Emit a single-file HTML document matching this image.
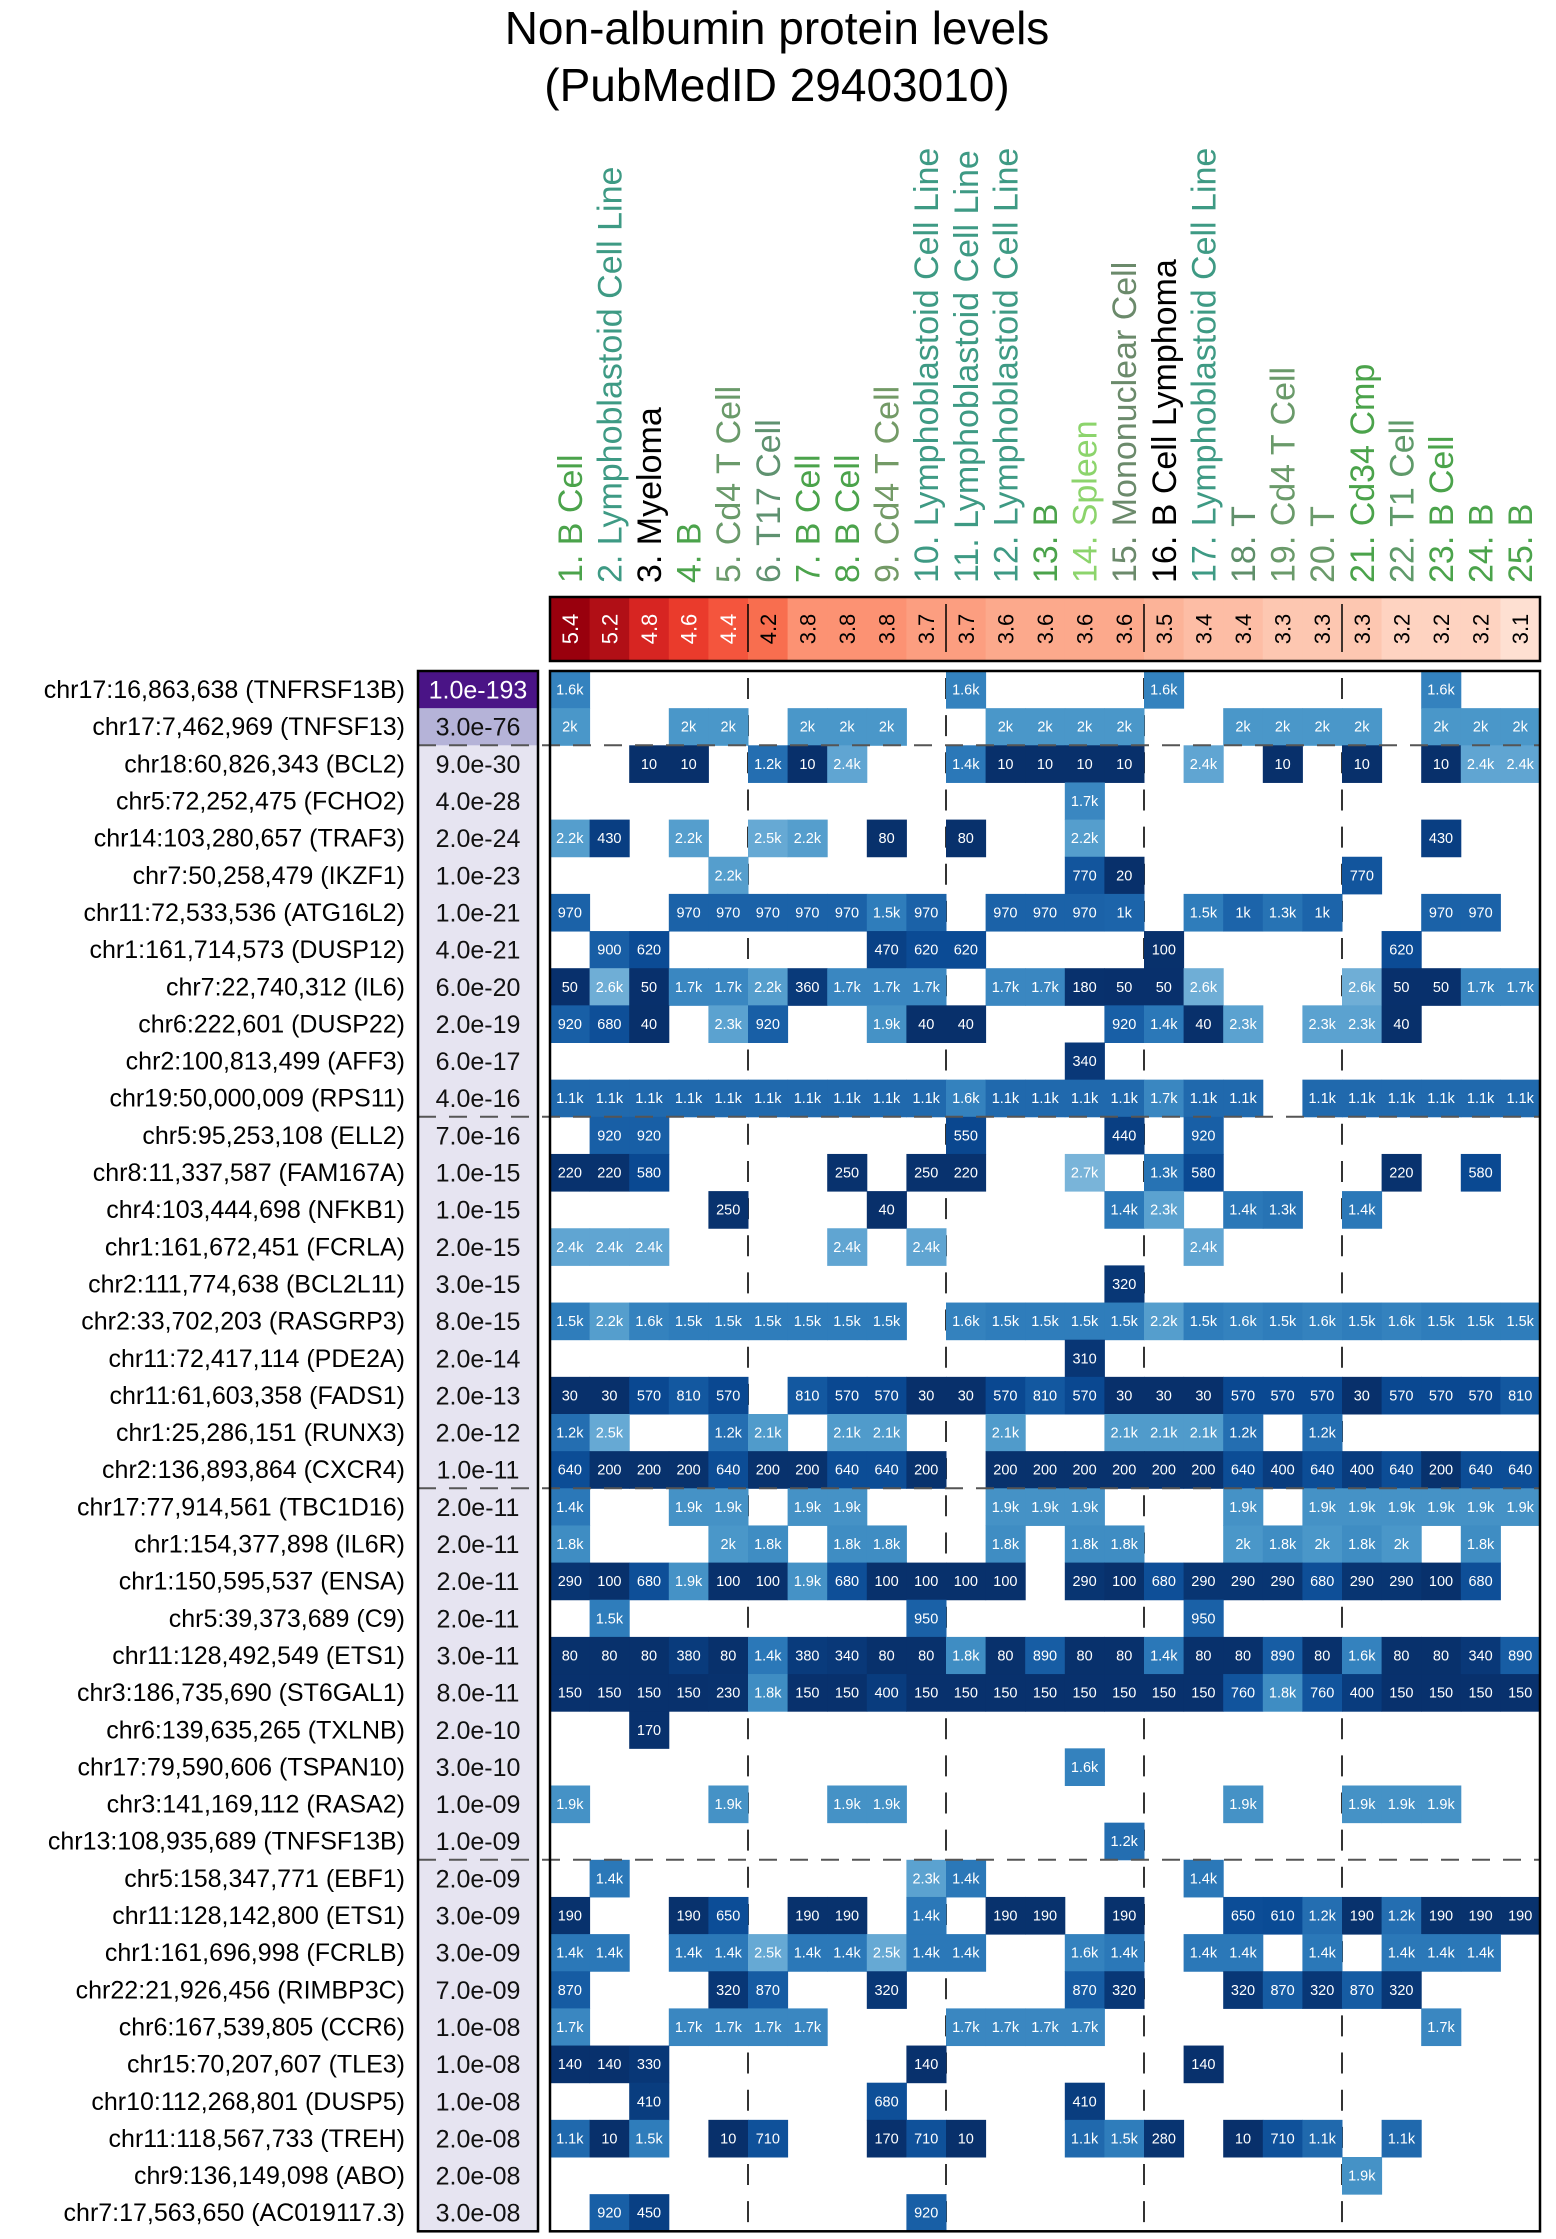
<!DOCTYPE html>
<html><head><meta charset="utf-8">
<style>
html,body{margin:0;padding:0;background:#fff;}
svg{display:block;font-family:"Liberation Sans",sans-serif;}
</style></head>
<body>
<svg id="chart" width="1556" height="2239" viewBox="0 0 1556 2239" xmlns="http://www.w3.org/2000/svg">
<text x="777" y="44" font-size="46" text-anchor="middle" fill="#000">Non-albumin protein levels</text>
<text x="777" y="101" font-size="46" text-anchor="middle" fill="#000">(PubMedID 29403010)</text>
<g id="layer"></g>
</svg>
<script>
const columnNames = ["1. B Cell","2. Lymphoblastoid Cell Line","3. Myeloma","4. B","5. Cd4 T Cell","6. T17 Cell","7. B Cell","8. B Cell","9. Cd4 T Cell","10. Lymphoblastoid Cell Line","11. Lymphoblastoid Cell Line","12. Lymphoblastoid Cell Line","13. B","14. Spleen","15. Mononuclear Cell","16. B Cell Lymphoma","17. Lymphoblastoid Cell Line","18. T","19. Cd4 T Cell","20. T","21. Cd34 Cmp","22. T1 Cell","23. B Cell","24. B","25. B"];
const columnColors = ["#4ba34b","#3e9a84","#000000","#4ba34b","#6a9a6a","#5f9270","#4ba34b","#4ba34b","#739a66","#3e9a84","#3e9a84","#3e9a84","#4ba34b","#8cd46c","#6b8a6b","#000000","#3e9a84","#5f8f6a","#6a9a6a","#6a9a6a","#4ba34b","#5f9a6a","#4ba34b","#4ba34b","#4ba34b"];
const columnScores = [5.4,5.2,4.8,4.6,4.4,4.2,3.8,3.8,3.8,3.7,3.7,3.6,3.6,3.6,3.6,3.5,3.4,3.4,3.3,3.3,3.3,3.2,3.2,3.2,3.1];
const rowLabels = ["chr17:16,863,638 (TNFRSF13B)","chr17:7,462,969 (TNFSF13)","chr18:60,826,343 (BCL2)","chr5:72,252,475 (FCHO2)","chr14:103,280,657 (TRAF3)","chr7:50,258,479 (IKZF1)","chr11:72,533,536 (ATG16L2)","chr1:161,714,573 (DUSP12)","chr7:22,740,312 (IL6)","chr6:222,601 (DUSP22)","chr2:100,813,499 (AFF3)","chr19:50,000,009 (RPS11)","chr5:95,253,108 (ELL2)","chr8:11,337,587 (FAM167A)","chr4:103,444,698 (NFKB1)","chr1:161,672,451 (FCRLA)","chr2:111,774,638 (BCL2L11)","chr2:33,702,203 (RASGRP3)","chr11:72,417,114 (PDE2A)","chr11:61,603,358 (FADS1)","chr1:25,286,151 (RUNX3)","chr2:136,893,864 (CXCR4)","chr17:77,914,561 (TBC1D16)","chr1:154,377,898 (IL6R)","chr1:150,595,537 (ENSA)","chr5:39,373,689 (C9)","chr11:128,492,549 (ETS1)","chr3:186,735,690 (ST6GAL1)","chr6:139,635,265 (TXLNB)","chr17:79,590,606 (TSPAN10)","chr3:141,169,112 (RASA2)","chr13:108,935,689 (TNFSF13B)","chr5:158,347,771 (EBF1)","chr11:128,142,800 (ETS1)","chr1:161,696,998 (FCRLB)","chr22:21,926,456 (RIMBP3C)","chr6:167,539,805 (CCR6)","chr15:70,207,607 (TLE3)","chr10:112,268,801 (DUSP5)","chr11:118,567,733 (TREH)","chr9:136,149,098 (ABO)","chr7:17,563,650 (AC019117.3)"];
const rowPvalues = ["1.0e-193","3.0e-76","9.0e-30","4.0e-28","2.0e-24","1.0e-23","1.0e-21","4.0e-21","6.0e-20","2.0e-19","6.0e-17","4.0e-16","7.0e-16","1.0e-15","1.0e-15","2.0e-15","3.0e-15","8.0e-15","2.0e-14","2.0e-13","2.0e-12","1.0e-11","2.0e-11","2.0e-11","2.0e-11","2.0e-11","3.0e-11","8.0e-11","2.0e-10","3.0e-10","1.0e-09","1.0e-09","2.0e-09","3.0e-09","3.0e-09","7.0e-09","1.0e-08","1.0e-08","1.0e-08","2.0e-08","2.0e-08","3.0e-08"];
const rowPvalueLog = [193,76,29,27.4,23.7,23,21,20.4,19.2,18.7,16.2,15.4,15.2,15,15,14.7,14.5,14.1,13.7,12.7,11.7,11,10.7,10.7,10.7,10.7,10.5,10.1,9.7,9.5,9,9,8.7,8.5,8.5,8.2,8,8,8,7.7,7.7,7.5];
const cellValues = [
[1600,0,0,0,0,0,0,0,0,0,1600,0,0,0,0,1600,0,0,0,0,0,0,1600,0,0],
[2000,0,0,2000,2000,0,2000,2000,2000,0,0,2000,2000,2000,2000,0,0,2000,2000,2000,2000,0,2000,2000,2000],
[0,0,10,10,0,1200,10,2400,0,0,1400,10,10,10,10,0,2400,0,10,0,10,0,10,2400,2400],
[0,0,0,0,0,0,0,0,0,0,0,0,0,1700,0,0,0,0,0,0,0,0,0,0,0],
[2200,430,0,2200,0,2500,2200,0,80,0,80,0,0,2200,0,0,0,0,0,0,0,0,430,0,0],
[0,0,0,0,2200,0,0,0,0,0,0,0,0,770,20,0,0,0,0,0,770,0,0,0,0],
[970,0,0,970,970,970,970,970,1500,970,0,970,970,970,1000,0,1500,1000,1300,1000,0,0,970,970,0],
[0,900,620,0,0,0,0,0,470,620,620,0,0,0,0,100,0,0,0,0,0,620,0,0,0],
[50,2600,50,1700,1700,2200,360,1700,1700,1700,0,1700,1700,180,50,50,2600,0,0,0,2600,50,50,1700,1700],
[920,680,40,0,2300,920,0,0,1900,40,40,0,0,0,920,1400,40,2300,0,2300,2300,40,0,0,0],
[0,0,0,0,0,0,0,0,0,0,0,0,0,340,0,0,0,0,0,0,0,0,0,0,0],
[1100,1100,1100,1100,1100,1100,1100,1100,1100,1100,1600,1100,1100,1100,1100,1700,1100,1100,0,1100,1100,1100,1100,1100,1100],
[0,920,920,0,0,0,0,0,0,0,550,0,0,0,440,0,920,0,0,0,0,0,0,0,0],
[220,220,580,0,0,0,0,250,0,250,220,0,0,2700,0,1300,580,0,0,0,0,220,0,580,0],
[0,0,0,0,250,0,0,0,40,0,0,0,0,0,1400,2300,0,1400,1300,0,1400,0,0,0,0],
[2400,2400,2400,0,0,0,0,2400,0,2400,0,0,0,0,0,0,2400,0,0,0,0,0,0,0,0],
[0,0,0,0,0,0,0,0,0,0,0,0,0,0,320,0,0,0,0,0,0,0,0,0,0],
[1500,2200,1600,1500,1500,1500,1500,1500,1500,0,1600,1500,1500,1500,1500,2200,1500,1600,1500,1600,1500,1600,1500,1500,1500],
[0,0,0,0,0,0,0,0,0,0,0,0,0,310,0,0,0,0,0,0,0,0,0,0,0],
[30,30,570,810,570,0,810,570,570,30,30,570,810,570,30,30,30,570,570,570,30,570,570,570,810],
[1200,2500,0,0,1200,2100,0,2100,2100,0,0,2100,0,0,2100,2100,2100,1200,0,1200,0,0,0,0,0],
[640,200,200,200,640,200,200,640,640,200,0,200,200,200,200,200,200,640,400,640,400,640,200,640,640],
[1400,0,0,1900,1900,0,1900,1900,0,0,0,1900,1900,1900,0,0,0,1900,0,1900,1900,1900,1900,1900,1900],
[1800,0,0,0,2000,1800,0,1800,1800,0,0,1800,0,1800,1800,0,0,2000,1800,2000,1800,2000,0,1800,0],
[290,100,680,1900,100,100,1900,680,100,100,100,100,0,290,100,680,290,290,290,680,290,290,100,680,0],
[0,1500,0,0,0,0,0,0,0,950,0,0,0,0,0,0,950,0,0,0,0,0,0,0,0],
[80,80,80,380,80,1400,380,340,80,80,1800,80,890,80,80,1400,80,80,890,80,1600,80,80,340,890],
[150,150,150,150,230,1800,150,150,400,150,150,150,150,150,150,150,150,760,1800,760,400,150,150,150,150],
[0,0,170,0,0,0,0,0,0,0,0,0,0,0,0,0,0,0,0,0,0,0,0,0,0],
[0,0,0,0,0,0,0,0,0,0,0,0,0,1600,0,0,0,0,0,0,0,0,0,0,0],
[1900,0,0,0,1900,0,0,1900,1900,0,0,0,0,0,0,0,0,1900,0,0,1900,1900,1900,0,0],
[0,0,0,0,0,0,0,0,0,0,0,0,0,0,1200,0,0,0,0,0,0,0,0,0,0],
[0,1400,0,0,0,0,0,0,0,2300,1400,0,0,0,0,0,1400,0,0,0,0,0,0,0,0],
[190,0,0,190,650,0,190,190,0,1400,0,190,190,0,190,0,0,650,610,1200,190,1200,190,190,190],
[1400,1400,0,1400,1400,2500,1400,1400,2500,1400,1400,0,0,1600,1400,0,1400,1400,0,1400,0,1400,1400,1400,0],
[870,0,0,0,320,870,0,0,320,0,0,0,0,870,320,0,0,320,870,320,870,320,0,0,0],
[1700,0,0,1700,1700,1700,1700,0,0,0,1700,1700,1700,1700,0,0,0,0,0,0,0,0,1700,0,0],
[140,140,330,0,0,0,0,0,0,140,0,0,0,0,0,0,140,0,0,0,0,0,0,0,0],
[0,0,410,0,0,0,0,0,680,0,0,0,0,410,0,0,0,0,0,0,0,0,0,0,0],
[1100,10,1500,0,10,710,0,0,170,710,10,0,0,1100,1500,280,0,10,710,1100,0,1100,0,0,0],
[0,0,0,0,0,0,0,0,0,0,0,0,0,0,0,0,0,0,0,0,1900,0,0,0,0],
[0,920,450,0,0,0,0,0,0,920,0,0,0,0,0,0,0,0,0,0,0,0,0,0,0]
];
const rowGroupBreaks = [2,12,22,32];
const colGroupBreaks = [5,10,15,20];

const NS="http://www.w3.org/2000/svg";
const layer=document.getElementById('layer');
const X0=550, CW=39.6, Y0=671, RH=37.15;
const nC=columnNames.length, nR=rowLabels.length;
const xAt=c=>X0+c*CW;
const yAt=r=>Y0+r*RH;
function mk(tag,attrs,parent){const e=document.createElementNS(NS,tag);for(const k in attrs)e.setAttribute(k,attrs[k]);(parent||layer).appendChild(e);return e;}
function lerpHex(a,b,t){const pa=[1,3,5].map(i=>parseInt(a.substr(i,2),16)),pb=[1,3,5].map(i=>parseInt(b.substr(i,2),16));return 'rgb('+pa.map((v,i)=>Math.round(v+(pb[i]-v)*t)).join(',')+')';}
function ramp(stops,v){if(v<=stops[0][0])return stops[0][1];for(let i=1;i<stops.length;i++){if(v<=stops[i][0]){const t=(v-stops[i-1][0])/(stops[i][0]-stops[i-1][0]);return lerpHex(stops[i-1][1],stops[i][1],t);}}return stops[stops.length-1][1];}
const blues=[[0,"#08306b"],[250,"#08326e"],[600,"#0a4a94"],[1000,"#1c64aa"],[1500,"#2f7dbb"],[2000,"#4a97c9"],[2500,"#66a9d4"],[2800,"#82b9db"]];
const reds=[[3.1,"#fee0d2"],[3.3,"#fdc7b1"],[3.5,"#fcb398"],[3.7,"#fc9e80"],[3.9,"#fb8565"],[4.2,"#f86e4f"],[4.4,"#f4553d"],[4.6,"#ea3b2c"],[4.8,"#d72522"],[5.2,"#b10f16"],[5.4,"#99000d"]];
function fmt(v){if(v>=1000){const k=Math.round(v/100)/10;return k+'k';}return String(v);}

// column labels
columnNames.forEach((name,c)=>{
  const cx=xAt(c)+CW/2+12;
  const t=mk('text',{x:0,y:0,transform:`translate(${cx},583) rotate(-90)`,'font-size':34,fill:columnColors[c]});
  
  
  t.textContent=name;
});

// score color bar
const CBY=597, CBH=64;
columnScores.forEach((v,c)=>{
  const r=mk('rect',{x:xAt(c),y:CBY,width:CW+0.5,height:CBH,fill:ramp(reds,v)});
  
  
  const t=mk('text',{x:0,y:0,transform:`translate(${xAt(c)+CW/2+8},${CBY+CBH/2}) rotate(-90)`,'font-size':22,'text-anchor':'middle',fill:v>=4.3?'#fff':'#000'});
  
  
  t.textContent=v.toFixed(1);
});
colGroupBreaks.forEach(b=>{
  const l=mk('line',{x1:xAt(b),x2:xAt(b),y1:CBY+7,y2:CBY+CBH-9,stroke:'#000','stroke-width':1.5});
  
  
});
const cbb=mk('rect',{x:X0,y:CBY,width:nC*CW,height:CBH,fill:'none',stroke:'#000','stroke-width':2.5});



// row labels & p-values
const PX=418, PW=120;
rowLabels.forEach((lab,r)=>{
  const t=mk('text',{x:405,y:yAt(r)+RH/2+8.5,'font-size':25,'text-anchor':'end',fill:'#000'});
  
  
  t.textContent=lab;
  const lg=rowPvalueLog[r];
  const fill=lg>150?'#4a1486':(lg>50?'#b5b3d8':'#e6e4f1');
  const pr=mk('rect',{x:PX,y:yAt(r),width:PW,height:RH+0.5,fill:fill});
  
  
  const pt=mk('text',{x:PX+PW/2,y:yAt(r)+RH/2+9,'font-size':25,'text-anchor':'middle',fill:lg>150?'#fff':'#111'});
  
  
  pt.textContent=rowPvalues[r];
});

// vertical group dividers (under cells)
colGroupBreaks.forEach(b=>{
  const l=mk('line',{x1:xAt(b),x2:xAt(b),y1:Y0+7,y2:yAt(nR),stroke:'#333','stroke-width':2,'stroke-dasharray':'21 16.15'});
  
  
});

// cells
cellValues.forEach((row,r)=>{
  row.forEach((v,c)=>{
    if(!v)return;
    const rc=mk('rect',{x:xAt(c),y:yAt(r),width:CW+0.5,height:RH+0.5,fill:ramp(blues,v)});
    
    
    const t=mk('text',{x:xAt(c)+CW/2,y:yAt(r)+RH/2+5,'font-size':14.5,'text-anchor':'middle',fill:'#fff'});
    
    
    t.textContent=fmt(v);
  });
});

// horizontal dividers
rowGroupBreaks.forEach(b=>{
  const l=mk('line',{x1:PX,x2:xAt(nC),y1:yAt(b),y2:yAt(b),stroke:'#555','stroke-width':2,'stroke-dasharray':'18 13'});
  
  
});

const pb=mk('rect',{x:PX,y:Y0,width:PW,height:nR*RH,fill:'none',stroke:'#000','stroke-width':2.5});


const hb=mk('rect',{x:X0,y:Y0,width:nC*CW,height:nR*RH,fill:'none',stroke:'#000','stroke-width':2.5});


</script>
</body></html>
